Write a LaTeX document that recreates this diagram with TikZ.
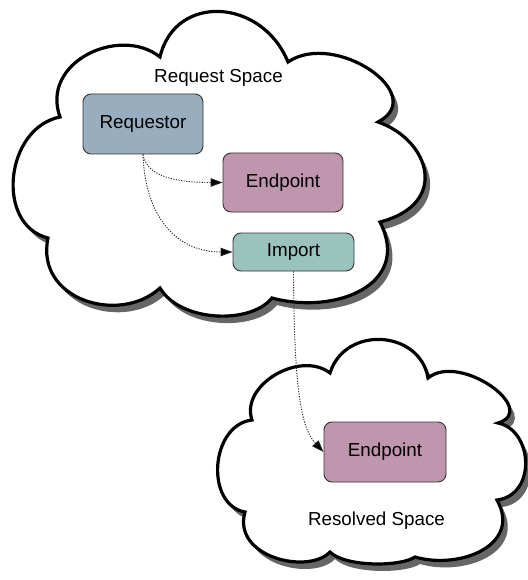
\documentclass[tikz,border=0pt]{standalone}
\usepackage{fontspec}
\setmainfont{Liberation Sans}
\usetikzlibrary{arrows.meta}

\def\cloudA{(160,57) .. controls (175,-7) and (262,-2) .. (288,62)
 .. controls (335,30) and (430,95) .. (378,122)
 .. controls (430,140) and (450,204) .. (380,222)
 .. controls (412,285) and (335,315) .. (272,298)
 .. controls (250,325) and (180,322) .. (160,288)
 .. controls (120,325) and (35,300) .. (48,238)
 .. controls (-5,225) and (5,128) .. (60,117)
 .. controls (40,62) and (120,25) .. cycle}

\def\cloudB{(330,373) .. controls (345,325) and (420,330) .. (428,378)
 .. controls (460,352) and (540,410) .. (498,423)
 .. controls (533,430) and (537,495) .. (497,500)
 .. controls (522,545) and (460,570) .. (415,557)
 .. controls (400,567) and (345,567) .. (330,552)
 .. controls (308,575) and (232,557) .. (245,512)
 .. controls (205,505) and (210,425) .. (252,420)
 .. controls (240,385) and (300,350) .. cycle}

\definecolor{reqcol}{RGB}{152,174,191}
\definecolor{epcol}{RGB}{192,150,174}
\definecolor{impcol}{RGB}{154,195,189}

\tikzset{
  cloudshadow/.style={fill=black!60, shift={(5,7)}},
  cloudbody/.style={fill=white, draw=black, line width=3.2pt},
  box/.style={draw=black!80, line width=0.9pt, rounded corners=8pt, inner sep=0pt,
              font=\fontsize{18.8}{22}\selectfont},
  spacelabel/.style={anchor=base, inner sep=0pt, font=\fontsize{18.8}{22}\selectfont},
  link/.style={black!85, line width=0.9pt, dash pattern=on 1.2pt off 1.4pt,
               -{Triangle[length=12pt,width=8.5pt,fill=black]}}
}

\begin{document}
\begin{tikzpicture}[x=1pt,y=-1pt]
\useasboundingbox (0,0) rectangle (527,580);

\fill[cloudshadow] \cloudA;
\path[cloudbody] \cloudA;
\fill[cloudshadow] \cloudB;
\path[cloudbody] \cloudB;

\node[spacelabel] (reqspace) at (218.5,83) {Request Space};
\node[spacelabel] (resspace) at (376.5,525) {Resolved Space};

\node[box, fill=reqcol, minimum width=120pt, minimum height=60pt] (req) at (143,124) {Requestor};
\node[box, fill=epcol, minimum width=120pt, minimum height=59pt] (ep1) at (283,182.5) {Endpoint};
\node[box, fill=impcol, minimum width=121pt, minimum height=38pt] (imp) at (293.5,252) {Import};
\node[box, fill=epcol, minimum width=122pt, minimum height=60pt] (ep2) at (385,452) {Endpoint};

\draw[link] (req.south) .. controls (146,172) and (165,182.5) .. (ep1.west);
\draw[link] (req.south) .. controls (145,215) and (175,252) .. (imp.west);
\draw[link] (imp.south) .. controls (294,400) and (303,430) .. (ep2.west);
\end{tikzpicture}
\end{document}
